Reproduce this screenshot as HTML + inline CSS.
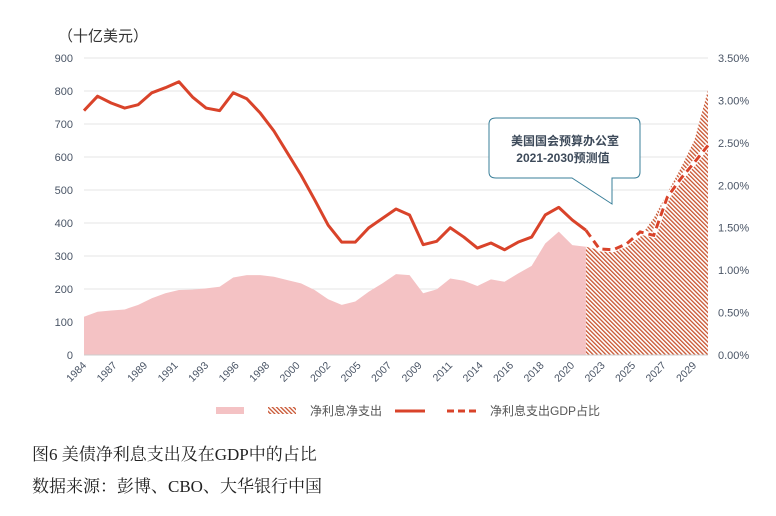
<!DOCTYPE html>
<html><head><meta charset="utf-8">
<style>
body{margin:0;background:#fff;width:776px;height:516px;overflow:hidden;font-family:"Liberation Sans","Noto Sans CJK SC",sans-serif;}
.cap{position:absolute;left:32px;font-family:"Liberation Serif","Noto Serif CJK SC",serif;font-size:17px;color:#222;}
</style></head><body>
<svg width="776" height="516" style="position:absolute;left:0;top:0" font-family="Liberation Sans, Noto Sans CJK SC, sans-serif">
<defs>
<pattern id="hatch" patternUnits="userSpaceOnUse" width="3" height="3" patternTransform="rotate(-45)">
<rect width="3" height="3" fill="#fff"/><rect width="1.3" height="3" fill="#c8532f"/>
</pattern>
</defs>
<text x="58" y="41" font-size="15" fill="#333">（十亿美元）</text>
<g id="grid"></g><g id="marks"></g><g id="axes"></g>
<g>
<path d="M496,118 H634 Q640,118 640,124 V172 Q640,178 634,178 H612 V204 L572,178 H496 Q489,178 489,172 V124 Q489,118 496,118 Z" fill="#fff" stroke="#3a7f99" stroke-width="1"/>
<text x="565" y="145" font-size="12" font-weight="bold" fill="#3d4a5a" text-anchor="middle">美国国会预算办公室</text>
<text x="563" y="162" font-size="12" font-weight="bold" fill="#3d4a5a" text-anchor="middle">2021-2030预测值</text>
</g>
<g font-size="12" fill="#555">
<rect x="216" y="407" width="28" height="7" fill="#f4c2c4"/>
<rect x="268" y="407" width="28" height="7" fill="url(#hatch)"/>
<text x="310" y="415">净利息净支出</text>
<line x1="395" y1="411" x2="425" y2="411" stroke="#d9432a" stroke-width="3"/>
<line x1="447" y1="411" x2="478" y2="411" stroke="#d9432a" stroke-width="3" stroke-dasharray="7,4"/>
<text x="490" y="415">净利息支出GDP占比</text>
</g>
</svg>
<div class="cap" style="top:440px">图6 美债净利息支出及在GDP中的占比</div>
<div class="cap" style="top:472px">数据来源：彭博、CBO、大华银行中国</div>
<script>
const years=[];for(let y=1984;y<=2030;y++)years.push(y);
const areaActual=[116,131,135,138,152,172,187,197,198,202,207,235,242,242,237,227,217,197,169,152,162,192,217,245,242,187,199,232,225,209,229,222,247,270,338,374,333,328];
const areaForecast=[328,318,313,327,358,415,491,567,651,803];
const ratioActual=[2.88,3.05,2.97,2.91,2.95,3.09,3.15,3.22,3.04,2.91,2.88,3.09,3.02,2.85,2.64,2.38,2.12,1.83,1.53,1.33,1.33,1.50,1.61,1.72,1.65,1.30,1.34,1.50,1.39,1.26,1.32,1.24,1.33,1.39,1.65,1.74,1.59,1.47];
const ratioForecast=[1.47,1.25,1.24,1.31,1.45,1.41,1.86,2.08,2.27,2.47];
const leftTicks=[0,100,200,300,400,500,600,700,800,900];
const rightTicks=["0.00%","0.50%","1.00%","1.50%","2.00%","2.50%","3.00%","3.50%"];
const xLabels=["1984","1987","1989","1991","1993","1996","1998","2000","2002","2005","2007","2009","2011","2014","2016","2018","2020","2023","2025","2027","2029"];
const X0=84,X1=708,Y0=355,Y1=58;
const xs=i=>X0+i*(X1-X0)/(years.length-1);
const yl=v=>Y0-v/900*(Y0-Y1);
const yr=v=>Y0-v/3.5*(Y0-Y1);
const NS="http://www.w3.org/2000/svg";
function mk(tag,attrs,parent){const e=document.createElementNS(NS,tag);for(const k in attrs)e.setAttribute(k,attrs[k]);document.getElementById(parent).appendChild(e);return e;}
leftTicks.forEach(v=>{
 const g=mk('line',{x1:X0,x2:X1,y1:yl(v),y2:yl(v),stroke:'#e6e6e6','stroke-width':1},'grid');
 
 
 const t=mk('text',{x:73,y:yl(v)+4,'font-size':11,fill:'#4a5566','text-anchor':'end'},'axes');t.textContent=v;
 
 
});
rightTicks.forEach((s,i)=>{
 const t=mk('text',{x:718,y:yr(i*0.5)+4,'font-size':11,fill:'#4a5566'},'axes');t.textContent=s;
 
 
});
xLabels.forEach((s,i)=>{
 const x=X0+i*30.5;
 const t=mk('text',{x:x+3,y:366,'font-size':10.5,fill:'#4a5566','text-anchor':'end',transform:`rotate(-45 ${x+3} 366)`},'axes');t.textContent=s;
 
 
});
let d=`M${xs(0)},${Y0}`;areaActual.forEach((v,i)=>d+=` L${xs(i)},${yl(v)}`);d+=` L${xs(areaActual.length-1)},${Y0} Z`;
const a1=mk('path',{d,fill:'#f4c2c4'},'marks');


const off=areaActual.length-1;
d=`M${xs(off)},${Y0}`;areaForecast.forEach((v,i)=>d+=` L${xs(off+i)},${yl(v)}`);d+=` L${xs(off+areaForecast.length-1)},${Y0} Z`;
const a2=mk('path',{d,fill:'url(#hatch)'},'marks');


d='';ratioActual.forEach((v,i)=>d+=(i?' L':'M')+xs(i)+','+yr(v));
const l1=mk('path',{d,fill:'none',stroke:'#d9432a','stroke-width':3,'stroke-linejoin':'round'},'marks');


d='';ratioForecast.forEach((v,i)=>d+=(i?' L':'M')+xs(off+i)+','+yr(v));
const l0=mk('path',{d,fill:'none',stroke:'#fff','stroke-width':5},'marks');


const l2=mk('path',{d,fill:'none',stroke:'#d9432a','stroke-width':3,'stroke-dasharray':'8,5'},'marks');


const ax=mk('line',{x1:X0,x2:X1,y1:Y0,y2:Y0,stroke:'#ccc'},'axes');


</script>
</body></html>
